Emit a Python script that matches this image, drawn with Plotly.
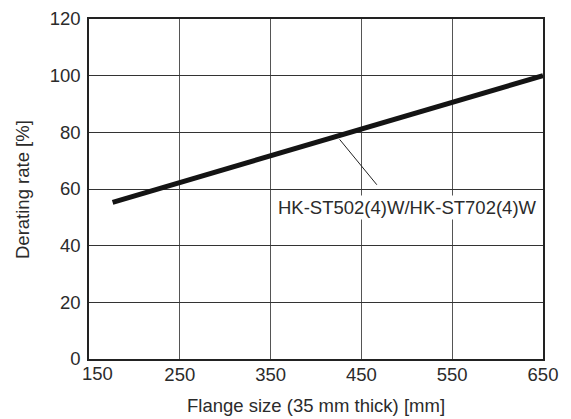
import plotly.graph_objects as go

# Derating curve
flange_mm = [176, 650]
derating_pct = [55.3, 100]

# Leader line for the series label
leader_x = [426, 467]
leader_y = [77.5, 61.5]
label_text = "HK-ST502(4)W/HK-ST702(4)W"
label_x = 356
label_y = 53.3

x_ticks = [150, 250, 350, 450, 550, 650]
x_labels = ["", "250", "350", "450", "550", "650"]  # 150 drawn nudged right
y_ticks = [0, 20, 40, 60, 80, 100, 120]

FONT = "Liberation Sans, Arial, sans-serif"
TXT = "#2b2b2b"
FS = 18.5

fig = go.Figure()
fig.add_trace(go.Scatter(
    x=leader_x, y=leader_y, mode="lines",
    line={"color": "#222222", "width": 1}, hoverinfo="skip", showlegend=False,
))
fig.add_trace(go.Scatter(
    x=flange_mm, y=derating_pct, mode="lines",
    line={"color": "#141414", "width": 5}, showlegend=False,
))

fig.add_annotation(
    x=label_x, y=label_y, text=label_text, showarrow=False,
    xanchor="left", yanchor="middle", bgcolor="white",
    font={"family": FONT, "size": FS, "color": TXT}, borderpad=1,
)
# first x tick label, shifted off the "0"
fig.add_annotation(
    x=x_ticks[0], xref="x", y=-0.0485, yref="paper", text=str(x_ticks[0]),
    showarrow=False, xanchor="center", yanchor="middle", xshift=8, yshift=2,
    font={"family": FONT, "size": FS, "color": TXT},
)
# axis titles
fig.add_annotation(
    x=0.5, xref="paper", y=-0.1353, yref="paper",
    text="Flange size (35 mm thick) [mm]", showarrow=False,
    xanchor="center", yanchor="middle",
    font={"family": FONT, "size": FS, "color": TXT},
)
fig.add_annotation(
    x=-0.1476, xref="paper", y=0.5, yref="paper",
    text="Derating rate [%]", showarrow=False, textangle=-90,
    xanchor="center", yanchor="middle",
    font={"family": FONT, "size": FS, "color": TXT},
)

fig.update_xaxes(
    range=[150, 650], tickvals=x_ticks, ticktext=x_labels, showgrid=True,
    gridcolor="#555555", gridwidth=1, showline=True, linecolor="#222222",
    linewidth=1.5, mirror=True, zeroline=False, ticks="", automargin=False,
    ticklabelstandoff=-2,
    tickfont={"family": FONT, "size": FS, "color": TXT},
)
fig.update_yaxes(
    range=[0, 120], tickvals=y_ticks, showgrid=True, gridcolor="#333333",
    gridwidth=1, showline=True, linecolor="#222222", linewidth=1.5, mirror=True,
    zeroline=False, ticks="", automargin=False, ticklabelstandoff=3,
    tickfont={"family": FONT, "size": FS, "color": TXT},
)
fig.update_layout(
    width=571, height=419, plot_bgcolor="white", paper_bgcolor="white",
    margin={"l": 89, "r": 28, "t": 19, "b": 60},
)
fig.write_html("out.html", config={"displayModeBar": False},
               post_script="document.body.style.margin='0';")
